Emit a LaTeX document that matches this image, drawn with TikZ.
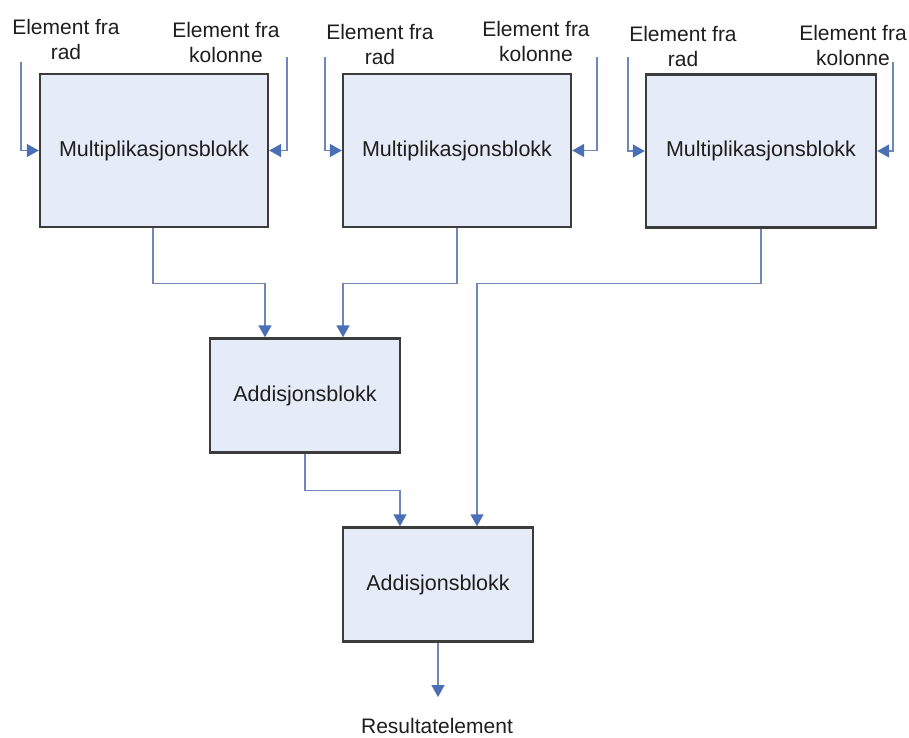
\documentclass[tikz,border=0pt]{standalone}
\usepackage{fontspec}
\setmainfont{Liberation Sans}
\usetikzlibrary{arrows.meta}
\definecolor{boxfill}{HTML}{E6ECF7}
\definecolor{boxline}{HTML}{3C3C3C}
\definecolor{wire}{HTML}{6F86BB}
\definecolor{tip}{HTML}{4A6FB5}
\definecolor{txt}{HTML}{1E1E1E}
\tikzset{
  block/.style={draw=boxline, line width=2.4pt, fill=boxfill, minimum width=228pt,
    minimum height=153pt, inner sep=0pt, text=txt, font=\fontsize{21.5}{25}\selectfont},
  addblock/.style={block, minimum width=190pt, minimum height=114pt},
  lbl/.style={align=center, inner sep=0pt, text=txt, font=\fontsize{21}{25}\selectfont},
  conn/.style={draw=wire, line width=1.4pt,
    -{Triangle[length=12pt, width=13pt, fill=tip, color=tip]}},
}
\begin{document}
\begin{tikzpicture}[x=1pt, y=-1pt]
\useasboundingbox[fill=white] (0,0) rectangle (909,737);

% multiplication blocks
\node[block] (m1) at (154,150.5) {Multiplikasjonsblokk};
\node[block] (m2) at (457,150.5) {Multiplikasjonsblokk};
\node[block, minimum width=230pt] (m3) at (761,151) {Multiplikasjonsblokk};

% addition blocks
\node[addblock] (a1) at (305,395.5) {Addisjonsblokk};
\node[addblock] (a2) at (438,584.5) {Addisjonsblokk};

% input labels
\node[lbl] (t1r) at (66,39) {Element fra\\rad};
\node[lbl] (t1k) at (226,42) {Element fra\\kolonne};
\node[lbl] (t2r) at (380,44) {Element fra\\rad};
\node[lbl] (t2k) at (536,41) {Element fra\\kolonne};
\node[lbl] (t3r) at (683,46) {Element fra\\rad};
\node[lbl] (t3k) at (853,45) {Element fra\\kolonne};

% output label
\node[lbl] (res) at (437,726) {Resultatelement};
\coordinate (out) at (438,697);

% input wire start points
\coordinate (i1r) at (21,62);
\coordinate (i1k) at (287,57);
\coordinate (i2r) at (325,57);
\coordinate (i2k) at (597,57);
\coordinate (i3r) at (628,57);
\coordinate (i3k) at (893,62);

% inputs into the multiplication blocks
\draw[conn] (i1r) |- (m1.west);
\draw[conn] (i1k) |- (m1.east);
\draw[conn] (i2r) |- (m2.west);
\draw[conn] (i2k) |- (m2.east);
\draw[conn] (i3r) |- (m3.west);
\draw[conn] (i3k) |- (m3.east);

% products to the adders
\draw[conn] ([xshift=-1pt]m1.south) -- ++(0,55) -| ([xshift=-40pt]a1.north);
\draw[conn] (m2.south) -- ++(0,55) -| ([xshift=38pt]a1.north);
\draw[conn] (m3.south) -- ++(0,55) -| ([xshift=39pt]a2.north);
\draw[conn] (a1.south) -- ++(0,37) -| ([xshift=-38pt]a2.north);

% result
\draw[conn] (a2.south) -- (out);
\end{tikzpicture}
\end{document}
